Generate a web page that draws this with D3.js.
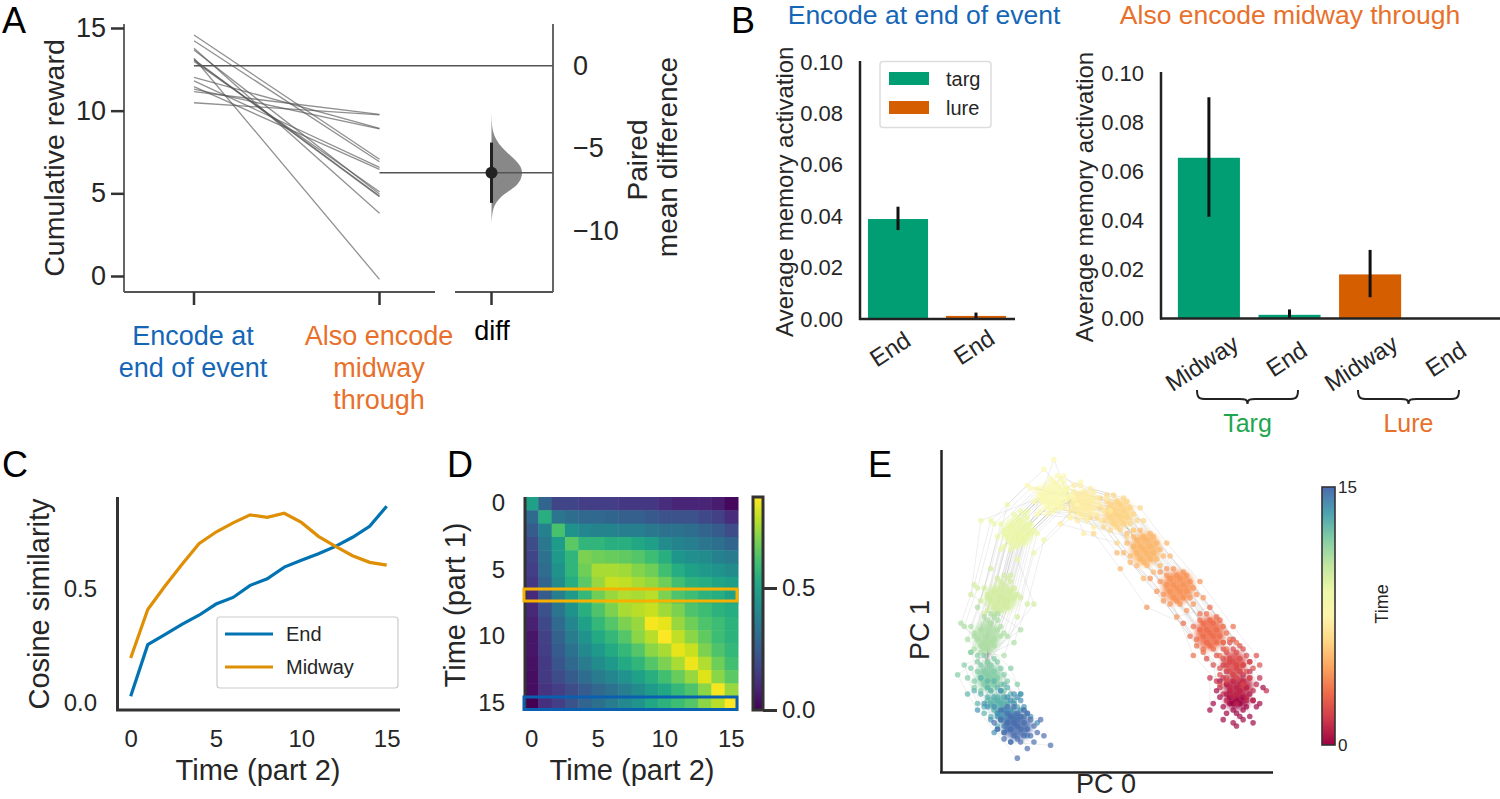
<!DOCTYPE html>
<html><head><meta charset="utf-8">
<script src="https://cdn.jsdelivr.net/npm/d3@7/dist/d3.min.js"></script>
<style>html,body{margin:0;background:#fff}svg{display:block}text{font-family:"Liberation Sans",Arial,sans-serif;fill:#262626}</style>
</head><body><svg id="c" width="1500" height="799"></svg>
<script>
// ---------- Panel A
const rewardStart=[14.58,14.23,13.78,13.67,13.17,13.1,13.07,12.97,12.02,11.8,11.45,11.3,11.15,10.48];
const rewardEnd=[7.06,6.91,3.79,4.96,-0.2,4.84,4.8,5.1,8.93,6.57,6.45,8.9,9.78,9.74];
const startMean=12.72;
const diffTicks=[0,-5,-10], rewardTicks=[0,5,10,15];
const diffMean=-6.47, diffCI=[-4.65,-8.3];
const densityDiff=[-2.8,-3.5,-4,-4.5,-5,-5.5,-6,-6.4,-6.8,-7.2,-7.6,-8,-8.5,-9,-9.5];
const densityVal=[0,0.01,0.04,0.15,0.35,0.65,0.92,1,0.97,0.85,0.55,0.25,0.07,0.02,0];
// ---------- Panel B
const bTicks=[0,0.02,0.04,0.06,0.08,0.1];
const leftCats=["End ","End"], leftVals=[0.0389,0.0012], leftLo=[0.0346,0], leftHi=[0.0437,0.0025];
const rightCats=["Midway","End","Midway ","End "], rightVals=[0.0656,0.0015,0.018,0], rightLo=[0.0415,0,0.0087,0], rightHi=[0.0903,0.0037,0.028,0];
const rightColors=["#029e73","#029e73","#d55e00","#d55e00"];
// ---------- Panel C
const times=d3.range(16);
const endSim=[0.03,0.256,0.30,0.345,0.385,0.434,0.463,0.516,0.545,0.596,0.626,0.655,0.687,0.727,0.775,0.863];
const midSim=[0.197,0.41,0.512,0.607,0.699,0.75,0.79,0.825,0.814,0.832,0.792,0.731,0.687,0.646,0.617,0.605];
// ---------- Panel D
const simMatrix=[
[.50,.28,.18,.18,.16,.16,.16,.14,.14,.14,.11,.09,.09,.09,.07,.02],
[.30,.55,.34,.31,.29,.29,.28,.26,.26,.24,.22,.22,.22,.19,.17,.11],
[.25,.38,.62,.44,.40,.39,.39,.37,.37,.35,.33,.33,.31,.28,.25,.20],
[.20,.35,.48,.65,.57,.57,.55,.55,.52,.49,.42,.39,.37,.34,.32,.28],
[.18,.33,.47,.57,.70,.68,.67,.66,.64,.60,.55,.46,.43,.42,.38,.36],
[.16,.31,.44,.57,.68,.76,.76,.75,.71,.68,.61,.54,.50,.47,.45,.42],
[.14,.28,.42,.54,.65,.74,.80,.79,.76,.73,.68,.61,.56,.54,.51,.49],
[.10,.25,.37,.47,.58,.68,.74,.77,.76,.78,.70,.63,.60,.56,.54,.50],
[.10,.22,.34,.44,.55,.63,.70,.76,.78,.80,.75,.70,.63,.60,.56,.54],
[.08,.19,.30,.40,.50,.58,.64,.70,.74,.86,.84,.74,.68,.63,.60,.56],
[.05,.17,.27,.36,.45,.53,.58,.64,.72,.78,.87,.79,.72,.66,.60,.56],
[.05,.16,.25,.33,.41,.47,.53,.58,.64,.72,.76,.84,.80,.70,.63,.58],
[.04,.15,.23,.29,.36,.42,.47,.53,.57,.64,.70,.76,.85,.77,.68,.61],
[.03,.15,.20,.25,.31,.36,.40,.45,.50,.55,.61,.67,.74,.83,.72,.65],
[.03,.13,.16,.20,.25,.29,.33,.37,.42,.48,.52,.58,.63,.72,.86,.74],
[.00,.12,.16,.22,.28,.32,.36,.41,.45,.52,.56,.60,.64,.72,.78,.88]];
// ---------- Panel E: one row per time step
const pc0=[
[89,91,87,92,86,90,88,93,85,94,84,89,87,91,86,92,95,83,90,88,86,93,89,85,91,87,96,82,90,88,97,81,94,84,89,91],
[90,88,92,86,93,89,91,87,94,85,90,88,92,86,95,84,89,91,87,93,85,90,88,96,83,92,86,89,94,91,98,81,87,93,89,85],
[88,90,86,91,85,89,87,92,84,93,88,86,90,85,91,87,89,83,94,88,84,92,86,90,82,95,87,89,85,93,80,96,91,84,88,86],
[81,83,79,84,78,82,80,85,77,86,81,79,83,78,84,80,82,76,87,81,77,85,79,83,75,88,80,82,78,86,73,89,84,76,81,79],
[71,73,69,74,68,72,70,75,67,76,71,69,73,68,74,70,72,66,77,71,67,75,69,73,65,78,70,72,68,76,62,79,74,66,71,63],
[61,63,59,64,58,62,60,65,57,66,61,59,63,58,64,60,62,56,67,61,57,65,59,63,55,68,60,62,58,66,54,69,64,56,61,53],
[53,55,51,56,50,54,52,57,49,58,53,51,55,50,56,52,54,48,59,53,49,57,51,55,47,60,52,54,50,58,46,61,56,48,53,45],
[43,45,41,46,40,44,42,47,39,48,43,41,45,40,46,42,44,38,49,43,39,47,41,45,37,50,42,44,40,48,36,51,46,38,43,35],
[34,32,36,30,37,33,35,31,38,29,34,36,32,37,30,35,33,39,28,34,38,30,36,32,40,27,35,33,37,29,41,26,31,39,34,42],
[23,21,25,19,26,22,24,20,27,18,23,25,21,26,19,24,22,28,17,23,27,19,25,21,29,16,24,22,26,18,31,15,20,28,23,12],
[18,16,20,14,21,17,19,15,22,13,18,20,16,21,14,19,17,23,12,18,22,14,20,16,24,11,19,17,21,13,26,10,15,23,28,9],
[14,12,16,10,17,13,15,11,18,9,14,16,12,17,10,15,13,19,8,14,18,10,16,12,20,7,15,13,17,9,22,6,11,19,14,24],
[14,16,12,17,11,15,13,18,10,19,14,12,16,11,17,13,15,9,20,14,10,18,12,16,8,21,13,15,11,19,7,23,17,9,14,5],
[17,19,15,20,14,18,16,21,13,22,17,15,19,14,20,16,18,12,23,17,13,21,15,19,11,24,16,18,14,22,10,25,20,12,17,8],
[21,19,23,17,24,20,22,18,25,16,21,23,19,24,17,22,20,26,15,21,25,17,23,19,27,14,22,20,24,16,29,13,18,26,21,11],
[23,25,21,26,20,24,22,27,19,28,23,21,25,20,26,22,24,18,29,23,19,27,21,25,17,30,22,24,20,28,16,31,26,18,33,23]];
const pc1=[
[22,23,21,20,24,25,19,24,20,22,23,18,25,19,18,26,20,25,17,21,27,17,26,16,27,23,21,21,21,15,26,19,15,28,14,16],
[27,28,26,27,29,24,30,24,25,29,31,23,23,31,27,26,32,28,26,31,24,25,30,29,28,22,22,33,22,33,25,29,34,34,21,33],
[34,35,33,33,35,37,31,36,32,34,30,37,31,38,38,35,33,36,32,38,30,31,29,39,33,36,40,29,40,29,35,33,27,27,41,28],
[43,44,42,42,44,46,40,45,41,43,39,46,40,47,47,44,42,45,41,47,39,40,38,48,42,45,49,38,49,38,46,40,36,36,51,37],
[57,58,56,56,58,60,54,59,55,57,53,60,54,61,61,58,56,59,55,61,53,54,52,62,56,59,63,52,63,52,51,54,50,62,48,60],
[69,70,68,68,70,72,66,71,67,69,65,72,66,73,73,70,68,71,67,73,65,66,64,74,68,71,75,64,75,64,63,67,62,74,60,68],
[80,81,79,79,81,83,77,82,78,80,76,83,77,84,84,81,79,82,78,84,76,77,75,85,79,82,86,75,86,75,74,78,73,85,71,79],
[83,84,82,82,84,86,80,85,81,83,79,86,80,87,87,84,82,85,81,87,79,80,78,88,82,85,89,78,89,78,77,81,76,88,74,82],
[85,87,84,85,87,83,89,84,85,88,90,82,82,90,86,83,91,86,84,81,88,81,91,80,85,88,92,81,92,80,83,89,94,79,97,90],
[74,76,73,74,76,72,78,73,74,77,79,71,71,79,75,72,80,75,73,70,77,70,80,69,74,77,81,70,81,69,72,78,83,68,66,78],
[54,56,53,54,56,52,58,53,54,57,59,51,51,59,55,52,60,55,53,50,57,50,60,49,54,57,61,50,61,49,52,58,63,48,52,55],
[42,44,41,42,44,40,46,41,42,45,47,39,39,47,43,40,48,43,41,38,45,38,48,37,42,45,49,38,49,37,40,46,51,36,34,44],
[30,31,29,29,31,33,27,32,28,30,26,33,27,34,34,31,29,32,28,34,26,27,25,35,29,32,36,25,36,25,33,27,23,37,22,30],
[22,23,21,21,23,25,19,24,20,22,18,25,19,26,26,23,21,24,20,26,18,19,17,27,21,24,28,17,28,17,25,19,15,29,14,24],
[17,19,16,17,19,15,21,16,17,20,22,14,14,22,18,15,23,18,16,13,20,13,23,12,17,20,24,13,24,12,15,21,25,11,9,19],
[14,15,13,13,15,17,11,16,12,14,10,17,11,18,18,15,13,16,12,18,10,11,9,19,13,16,20,9,20,9,15,11,7,19,8,4]];
// dense, fully overlapped core of each time step's cloud (centre and half-widths in PC units)
const coreX=[89.2,89.5,88.3,81,71.4,61.5,53.4,42.8,33.7,23.2,18.1,13.9,14.5,17.2,20.2,22.9];
const coreY=[22.1,26.5,33.6,42.9,57.3,69.2,80.2,83.3,85.8,74.5,53.9,41.7,29.2,21.4,17.4,13.9];
const coreRx=[3.8,4.5,3.6,4.3,4.8,4.5,4.5,4.5,5,4.8,5,3.8,3.8,3.6,3.6,4.4];
const coreRy=[2.9,3.4,3.7,5.2,5.2,5.2,4.5,4.2,4.2,4.5,4.5,5,4.2,2.6,2.6,4];

const svg=d3.select("#c");
const INK="#262626";
function label(x,y,s,o={}){
  const t=svg.append("text").attr("x",x).attr("y",y).text(s)
    .attr("font-size",o.size||27).attr("text-anchor",o.anchor||"middle").style("fill",o.fill||INK);
  if(o.rot!==undefined)t.attr("transform",`rotate(${o.rot} ${x} ${y})`);
  if(o.mid)t.attr("dominant-baseline","central");
  return t;
}
function hline(x1,x2,y,c,w){svg.append("line").attr("x1",x1).attr("x2",x2).attr("y1",y).attr("y2",y).attr("stroke",c).attr("stroke-width",w);}
function vline(x,y1,y2,c,w){svg.append("line").attr("x1",x).attr("x2",x).attr("y1",y1).attr("y2",y2).attr("stroke",c).attr("stroke-width",w);}
function styleAxis(g,o){
  g.select(".domain").remove();
  g.selectAll(".tick line").attr("stroke",o.tc||"#333").attr("stroke-width",o.tw||2.5);
  g.selectAll(".tick text").attr("font-size",o.size).style("fill",INK);
}
// panel letters
[["A",2,33],["B",731,33],["C",2,477],["D",447,477],["E",868,477]].forEach(d=>label(d[1],d[2],d[0],{size:36,anchor:"start",fill:"#000"}));

// ===== A
{
 const y=d3.scaleLinear().domain([0,15]).range([276,28]);
 const yD=d3.scaleLinear().domain([0,-10]).range([65.7,231]);
 const xP=d3.scalePoint().domain(["start","end"]).range([194,379.5]);
 const xDiff=491.5;
 const A=svg.append("g");
 rewardStart.forEach((s,i)=>A.append("line").attr("x1",xP("start")).attr("x2",xP("end")).attr("y1",y(s)).attr("y2",y(rewardEnd[i])).attr("stroke","#555").attr("stroke-opacity",.65).attr("stroke-width",1.3));
 hline(xP("start"),553,y(startMean),"#555",1.5);
 const w=d3.scaleLinear().domain([0,1]).range([0,31]);
 svg.append("path").attr("fill","#888").attr("d",d3.area().curve(d3.curveBasis).y(d=>yD(d[0])).x0(xDiff).x1(d=>xDiff+w(d[1]))(densityDiff.map((d,i)=>[d,densityVal[i]])));
 hline(xP("end"),553,yD(diffMean),"#555",1.5);
 vline(xDiff,yD(diffCI[0]),yD(diffCI[1]),"#222",3);
 svg.append("circle").attr("cx",xDiff).attr("cy",yD(diffMean)).attr("r",6).attr("fill","#222");
 vline(124,24,292,"#555",1.8); vline(553,24,292,"#555",1.8);
 hline(124,435,292,"#555",1.8); hline(455,553,292,"#555",1.8);
 styleAxis(svg.append("g").attr("transform","translate(124,0)").call(d3.axisLeft(y).tickValues(rewardTicks).tickSize(13).tickPadding(5)),{size:27});
 styleAxis(svg.append("g").attr("transform","translate(553,0)").call(d3.axisRight(yD).tickValues(diffTicks).tickSize(0).tickPadding(20).tickFormat(d=>d3.format("d")(d).replace("-","\u2212"))),{size:27});
 [xP("start"),xP("end"),xDiff].forEach(x=>vline(x,292,305,"#333",2.5));
 label(64,158,"Cumulative reward",{rot:-90,size:28.5});
 label(647,160,"Paired",{rot:-90,size:28});
 label(677,157,"mean difference",{rot:-90,size:28});
 label(193,345,"Encode at",{fill:"#1566b7"});label(193,377,"end of event",{fill:"#1566b7"});
 [["Also encode",345],["midway",377],["through",409]].forEach(d=>label(379,d[1],d[0],{fill:"#e8702a"}));
 label(492,340,"diff",{size:27,fill:"#000"});
}
// ===== B
label(924,24,"Encode at end of event",{fill:"#1566b7",size:26.5});
label(1290,24,"Also encode midway through",{fill:"#e8702a",size:26.5});
function barPanel(o){
 const y=d3.scaleLinear().domain([0,0.1]).range([o.y0,o.y1]);
 const x=d3.scaleBand().domain(o.cats).range(o.xr).paddingInner(.23).paddingOuter(.115);
 svg.append("g").selectAll("rect").data(o.cats).join("rect").attr("x",d=>x(d)).attr("width",x.bandwidth())
   .attr("y",(d,i)=>y(o.vals[i])).attr("height",(d,i)=>y(0)-y(o.vals[i])).attr("fill",(d,i)=>o.cols[i]);
 o.cats.forEach((c,i)=>{if(o.hi[i]>0)vline(x(c)+x.bandwidth()/2,y(o.hi[i]),y(o.lo[i]),"#111",3);});
 vline(o.sx,o.top,o.y0+1,"#222",2.5);hline(o.sx-1,o.xEnd,o.y0,"#222",2.5);
 styleAxis(svg.append("g").attr("transform",`translate(${o.sx},0)`).call(d3.axisLeft(y).tickValues(bTicks).tickSize(0).tickPadding(o.pad).tickFormat(d3.format(".2f"))),{size:22});
 o.cats.forEach((c,i)=>{
   const cx=x(c)+x.bandwidth()/2+o.off[i], cy=o.ly[i];
   const t=label(cx,cy,c.trim(),{size:24,mid:true});t.attr("transform",`rotate(-33 ${cx} ${cy})`);
 });
 label(o.lx,o.ty,"Average memory activation",{rot:-90,size:24});
}
barPanel({cats:leftCats,vals:leftVals,lo:leftLo,hi:leftHi,cols:["#029e73","#d55e00"],y0:319,y1:62,xr:[859,1015],sx:860,xEnd:1015,top:61,pad:17,off:[-8,-2],ly:[349,347],lx:793,ty:191.7});
barPanel({cats:rightCats,vals:rightVals,lo:rightLo,hi:rightHi,cols:rightColors,y0:318.5,y1:73.5,xr:[1168.6,1491],sx:1161,xEnd:1500,top:72,pad:17,off:[-7,-3,-9,-5],ly:[363,359,363,359],lx:1093,ty:197});
// legend B
svg.append("rect").attr("x",880).attr("y",61.5).attr("width",111).attr("height",66).attr("rx",3).attr("fill","#fff").attr("fill-opacity",.9).attr("stroke","#ddd").attr("stroke-width",1.5);
[["targ","#029e73",72],["lure","#d55e00",101]].forEach(d=>{
 svg.append("rect").attr("x",889).attr("y",d[2]).attr("width",40).attr("height",13).attr("fill",d[1]);
 label(946,d[2]+7,d[0],{size:20,anchor:"start",mid:true});
});
// braces
function brace(x1,x2,yt,yb){const m=(x1+x2)/2,q=yt+9;
 return `M${x1},${yt} C${x1},${q} ${x1+3},${q} ${x1+10},${q} L${m-8},${q} C${m-3},${q} ${m},${q} ${m},${yb} C${m},${q} ${m+3},${q} ${m+8},${q} L${x2-10},${q} C${x2-3},${q} ${x2},${q} ${x2},${yt}`;}
[[1197,1298,"Targ","#1fa650"],[1358,1459,"Lure","#e8702a"]].forEach(d=>{
 svg.append("path").attr("d",brace(d[0],d[1],390,404)).attr("fill","none").attr("stroke","#222").attr("stroke-width",2);
 label((d[0]+d[1])/2,432,d[2],{size:25,fill:d[3]});
});
// ===== C
{
 const x=d3.scaleLinear().domain([0,15]).range([130.7,386.7]);
 const y=d3.scaleLinear().domain([0,0.5]).range([703,589]);
 const ln=d3.line().x((d,i)=>x(i)).y(d=>y(d));
 svg.append("path").attr("d",ln(endSim)).attr("fill","none").attr("stroke","#0173b2").attr("stroke-width",3.2);
 svg.append("path").attr("d",ln(midSim)).attr("fill","none").attr("stroke","#de8f05").attr("stroke-width",3.2);
 vline(117.5,497,711,"#333",3);hline(116,400,710,"#333",3);
 styleAxis(svg.append("g").attr("transform","translate(117,0)").call(d3.axisLeft(y).tickValues([0,.5]).tickSize(0).tickPadding(20).tickFormat(d3.format(".1f"))),{size:24});
 styleAxis(svg.append("g").attr("transform","translate(0,724)").call(d3.axisBottom(x).tickValues([0,5,10,15]).tickSize(0).tickPadding(6)),{size:24});
 label(258,780,"Time (part 2)",{size:29});
 label(49,604,"Cosine similarity",{rot:-90,size:29});
 svg.append("rect").attr("x",217).attr("y",617).attr("width",181).attr("height",71).attr("rx",3).attr("fill","#fff").attr("stroke","#ccc").attr("stroke-width",1.2);
 [["End","#0173b2",634],["Midway","#de8f05",667]].forEach(d=>{
  hline(225,273,d[2],d[1],3);label(286,d[2],d[0],{size:20,anchor:"start",mid:true});
 });
}
// ===== D
{
 const x=d3.scaleBand().domain(times).range([525,738]);
 const y=d3.scaleBand().domain(times).range([497,710]);
 const col=d3.scaleSequential(d3.interpolateViridis).domain([0,0.873]);
 svg.append("g").selectAll("g").data(simMatrix).join("g").each(function(row,r){
  d3.select(this).selectAll("rect").data(row).join("rect").attr("x",(d,c)=>x(c)).attr("y",y(r))
    .attr("width",x.bandwidth()+.5).attr("height",y.bandwidth()+.5).attr("fill",d=>col(d));
 });
 vline(525,497,711,"#333",3);
 svg.append("rect").attr("x",524).attr("y",589).attr("width",213).attr("height",12).attr("fill","none").attr("stroke","#f5b000").attr("stroke-width",3);
 svg.append("rect").attr("x",524).attr("y",697).attr("width",213).attr("height",12.5).attr("fill","none").attr("stroke","#0a5fb0").attr("stroke-width",3);
 const tickF=t=>styleAxis(t,{size:24});
 tickF(svg.append("g").attr("transform","translate(525,0)").call(d3.axisLeft(y).tickValues([0,5,10,15]).tickSize(0).tickPadding(20)));
 tickF(svg.append("g").attr("transform","translate(0,724)").call(d3.axisBottom(x).tickValues([0,5,10,15]).tickSize(0).tickPadding(6)));
 label(632,780,"Time (part 2)",{size:29});
 label(465,605,"Time (part 1)",{rot:-90,size:29});
 const defs=svg.append("defs");
 const g=defs.append("linearGradient").attr("id","vir").attr("x1",0).attr("x2",0).attr("y1",1).attr("y2",0);
 d3.range(0,1.01,.1).forEach(t=>g.append("stop").attr("offset",t).attr("stop-color",d3.interpolateViridis(t)));
 svg.append("rect").attr("x",753).attr("y",497).attr("width",10).attr("height",213).attr("fill","url(#vir)").attr("stroke","#333").attr("stroke-width",3);
 const c=d3.scaleLinear().domain([0,0.873]).range([710,497]);
 styleAxis(svg.append("g").attr("transform","translate(763,0)").call(d3.axisRight(c).tickValues([0,.5]).tickSize(14).tickPadding(5).tickFormat(d3.format(".1f"))),{size:24,tw:3});
}
// ===== E
{
 const x=d3.scaleLinear().domain([0,100]).range([941,1273]);
 const y=d3.scaleLinear().domain([0,100]).range([771,450]);
 const kx=x(1)-x(0), ky=y(0)-y(1);
 const specEnd=.95;
 const col=t=>d3.interpolateSpectral(t/15*specEnd);
 const defs=svg.append("defs");
 defs.append("filter").attr("id","soft").attr("x","-40%").attr("y","-40%").attr("width","180%").attr("height","180%")
   .append("feGaussianBlur").attr("stdDeviation",2.4);
 const nTraj=pc0[0].length;
 const ln=d3.line().x(d=>x(d[0])).y(d=>y(d[1]));
 d3.range(nTraj).forEach(k=>{
  svg.append("path").attr("d",ln(times.map(t=>[pc0[t][k],pc1[t][k]]))).attr("fill","none").attr("stroke","#555").attr("stroke-opacity",.1).attr("stroke-width",1);
 });
 times.forEach(t=>{
  svg.append("g").selectAll("circle").data(pc0[t]).join("circle").attr("cx",d=>x(d)).attr("cy",(d,i)=>y(pc1[t][i])).attr("r",2.8).attr("fill",col(t)).attr("fill-opacity",.68);
  svg.append("ellipse").attr("cx",x(coreX[t])).attr("cy",y(coreY[t])).attr("rx",coreRx[t]*kx).attr("ry",coreRy[t]*ky).attr("fill",col(t)).attr("fill-opacity",.85).attr("filter","url(#soft)");
 });
 vline(941.5,450,773,"#222",2.5);hline(940,1273,772.5,"#222",2.5);
 label(1106,793,"PC 0",{size:27});
 label(929,630,"PC 1",{rot:-90,size:27});
 const g=defs.append("linearGradient").attr("id","spec").attr("x1",0).attr("x2",0).attr("y1",1).attr("y2",0);
 d3.range(0,1.01,.1).forEach(t=>g.append("stop").attr("offset",t).attr("stop-color",d3.interpolateSpectral(t*specEnd)));
 svg.append("rect").attr("x",1322).attr("y",487).attr("width",13).attr("height",258).attr("fill","url(#spec)").attr("stroke","#333").attr("stroke-width",1.6);
 const c=d3.scaleLinear().domain([0,15]).range([745,487]);
 styleAxis(svg.append("g").attr("transform","translate(1335,0)").call(d3.axisRight(c).tickValues([0,15]).tickSize(0).tickPadding(3)),{size:17});
 label(1388,604,"Time",{rot:-90,size:18});
}
</script></body></html>
